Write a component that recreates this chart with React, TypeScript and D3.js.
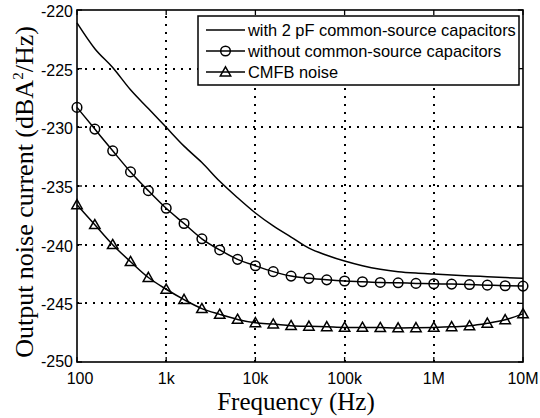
import React from "react";
import * as d3 from "d3";

// Frequencies at 0.2-decade steps (100 Hz .. 10 MHz)
const freqs: number[] = [
  100, 158.5, 251.2, 398.1, 631, 1e3, 1585, 2512, 3981, 6310, 1e4, 15850, 25120, 39810, 63100,
  1e5, 158500, 251200, 398100, 631000, 1e6, 1585000, 2512000, 3981000, 6310000, 1e7,
];
const withCap: number[] = [
  -221.1, -223.3, -224.9, -226.8, -228.4, -230.0, -231.6, -233.0, -234.6, -236.0, -237.3, -238.4,
  -239.35, -240.3, -240.9, -241.4, -241.8, -242.1, -242.3, -242.42, -242.5, -242.58, -242.66,
  -242.73, -242.8, -242.87,
];
const withoutCap: number[] = [
  -228.3, -230.15, -232.0, -233.8, -235.4, -236.9, -238.2, -239.5, -240.45, -241.25, -241.8, -242.3,
  -242.68, -242.87, -243.0, -243.1, -243.16, -243.22, -243.25, -243.3, -243.33, -243.36, -243.4,
  -243.45, -243.5, -243.53,
];
const cmfb: number[] = [
  -236.6, -238.3, -240.0, -241.45, -242.8, -243.8, -244.68, -245.45, -245.94, -246.37, -246.66,
  -246.77, -246.9, -246.96, -247.0, -247.05, -247.05, -247.07, -247.1, -247.08, -247.05, -247.0,
  -246.92, -246.7, -246.4, -245.9,
];
const xTicks: number[] = [100, 1e3, 1e4, 1e5, 1e6, 1e7];
const xTickLabels: string[] = ["100", "1k", "10k", "100k", "1M", "10M"];
const yTicks: number[] = [-250, -245, -240, -235, -230, -225, -220];
const legendLabels: string[] = [
  "with 2 pF common-source capacitors",
  "without common-source capacitors",
  "CMFB noise",
];

const W = 540;
const H = 418;
const left = 77;
const right = 523;
const top = 10;
const bottom = 362;

export default function App() {
  const x = d3.scaleLog().domain([100, 1e7]).range([left, right]);
  const y = d3.scaleLinear().domain([-250, -220]).range([bottom, top]);

  const mk = (vals: number[]) =>
    d3
      .line<number>()
      .x((_, i) => x(freqs[i]))
      .y((v) => y(v))
      .curve(d3.curveMonotoneX)(vals) || "";

  const sans = "'Liberation Sans', Arial, Helvetica, sans-serif";
  const serif = "'Liberation Serif', 'Times New Roman', Times, serif";

  const tri = (cx: number, cy: number, s = 5.2) =>
    `M${cx},${cy - s} L${cx + s},${cy + s * 0.75} L${cx - s},${cy + s * 0.75} Z`;

  const legendRowsY = [30, 51, 72];

  return (
    <svg
      width={W}
      height={H}
      style={{ position: "absolute", left: 0, top: 0, background: "#fff" }}
    >
      <rect x={0} y={0} width={W} height={H} fill="#fff" />
      {/* grid */}
      <g stroke="#000" strokeWidth={2} strokeDasharray="2 6" shapeRendering="crispEdges">
        {xTicks.slice(1, -1).map((t) => (
          <line key={"gx" + t} x1={Math.round(x(t))} x2={Math.round(x(t))} y1={bottom} y2={top} />
        ))}
        {yTicks.slice(1, -1).map((t) => (
          <line key={"gy" + t} x1={left} x2={right} y1={Math.round(y(t))} y2={Math.round(y(t))} />
        ))}
      </g>
      {/* ticks */}
      <g stroke="#000" strokeWidth={1.3}>
        {xTicks.map((t) => (
          <g key={"tx" + t}>
            <line x1={x(t)} x2={x(t)} y1={bottom} y2={bottom - 5} />
            <line x1={x(t)} x2={x(t)} y1={top} y2={top + 5} />
          </g>
        ))}
        {yTicks.map((t) => (
          <g key={"ty" + t}>
            <line x1={left} x2={left + 5} y1={y(t)} y2={y(t)} />
            <line x1={right} x2={right - 5} y1={y(t)} y2={y(t)} />
          </g>
        ))}
      </g>
      {/* curves */}
      <g fill="none" stroke="#000" strokeWidth={1.5}>
        <path d={mk(withCap)} />
        <path d={mk(withoutCap)} />
        <path d={mk(cmfb)} />
      </g>
      <g fill="none" stroke="#000" strokeWidth={1.5}>
        {withoutCap.map((v, i) => (
          <circle key={"c" + i} cx={x(freqs[i])} cy={y(v)} r={4.8} />
        ))}
        {cmfb.map((v, i) => (
          <path key={"t" + i} d={tri(x(freqs[i]), y(v))} />
        ))}
      </g>
      {/* axes box */}
      <rect
        x={left}
        y={top}
        width={right - left}
        height={bottom - top}
        fill="none"
        stroke="#000"
        strokeWidth={1.6}
      />
      {/* tick labels */}
      <g fontFamily={sans} fontSize={16} fill="#000">
        {xTicks.map((t, i) => (
          <text key={"lx" + t} x={x(t) + (i === 0 ? 3 : 0)} y={384} textAnchor="middle">
            {xTickLabels[i]}
          </text>
        ))}
        {yTicks.map((t) => (
          <text key={"ly" + t} x={left - 4} y={y(t) + (t === -250 ? 5 : 7)} textAnchor="end">
            {String(t)}
          </text>
        ))}
      </g>
      {/* axis labels */}
      <text x={296} y={410} textAnchor="middle" fontFamily={serif} fontSize={25} fill="#000">
        Frequency (Hz)
      </text>
      <text
        transform="translate(33,192) rotate(-90)"
        textAnchor="middle"
        fontFamily={serif}
        fontSize={26}
        fill="#000"
      >
        <tspan>Output noise current (dBA</tspan>
        <tspan fontSize={15} dy={-10}>2</tspan>
        <tspan dy={10}>/Hz)</tspan>
      </text>
      {/* legend */}
      <rect x={198} y={16} width={321} height={69} fill="#fff" stroke="#000" strokeWidth={1.5} />
      {legendLabels.map((lab, i) => {
        const ly = legendRowsY[i];
        return (
          <g key={"lg" + i}>
            <line x1={206} x2={245} y1={ly} y2={ly} stroke="#000" strokeWidth={1.5} />
            {i === 1 && <circle cx={225.5} cy={ly} r={4.8} fill="none" stroke="#000" strokeWidth={1.5} />}
            {i === 2 && <path d={tri(225.5, ly)} fill="none" stroke="#000" strokeWidth={1.5} />}
            <text x={248} y={ly + 6} fontFamily={sans} fontSize={16.4} fill="#000">
              {lab}
            </text>
          </g>
        );
      })}
    </svg>
  );
}
